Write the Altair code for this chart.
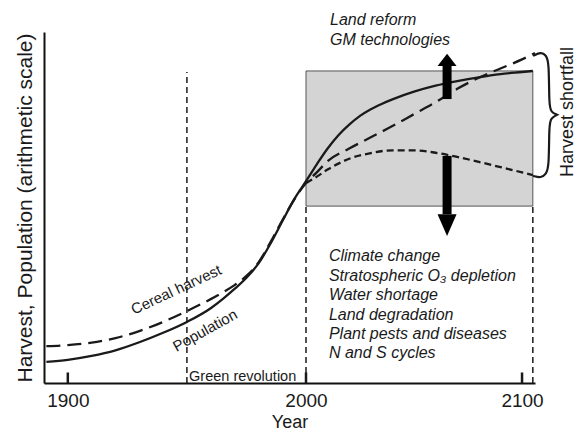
import altair as alt
import pandas as pd

FONT = "Liberation Sans"
INK = "#1a1a1a"

# ---- data (y in arbitrary 0-100 units) ----
pop_years = [1891, 1900, 1910, 1920, 1930, 1940, 1950, 1960, 1965, 1970, 1975, 1980, 1985, 1990, 1995,
             2000, 2005, 2010, 2015, 2020, 2025, 2030, 2035, 2040, 2050, 2060, 2070, 2080, 2090, 2100, 2105]
pop_values = [6.0, 6.6, 7.7, 9.3, 11.6, 14.3, 17.4, 21.3, 23.9, 26.8, 30.0, 34.0, 39.6, 46.0, 52.3,
              57.5, 62.3, 66.8, 70.6, 73.6, 76.1, 78.0, 79.5, 80.8, 83.0, 84.7, 86.0, 87.1, 88.0, 88.6, 88.9]

harvest_years = [1891, 1900, 1910, 1920, 1930, 1940, 1950, 1960, 1965, 1970, 1975, 1980, 1985, 1990, 1995,
                 2000, 2005, 2010, 2020, 2030, 2040, 2050, 2060, 2070, 2080, 2090, 2100, 2106]
harvest_values = [10.5, 10.8, 11.5, 12.8, 14.8, 17.4, 20.5, 23.9, 25.8, 27.9, 30.5, 34.3, 40.0, 46.3, 52.2,
                  57.0, 60.0, 63.2, 66.8, 70.0, 73.2, 76.6, 80.0, 83.8, 87.0, 89.6, 92.2, 94.0]

low_years = [2000, 2005, 2010, 2015, 2020, 2030, 2040, 2050, 2060, 2070, 2080, 2090, 2100, 2105]
low_values = [57.0, 58.8, 60.8, 62.5, 63.9, 65.5, 66.3, 66.3, 65.6, 64.4, 63.0, 61.5, 60.0, 59.2]

x_ticks = [1900, 2000, 2100]
upper_notes = ["Land reform", "GM technologies"]
lower_notes = ["Climate change", "Stratospheric O\u2083 depletion", "Water shortage",
               "Land degradation", "Plant pests and diseases", "N and S cycles"]

# ---- scales / axes ----
xscale = alt.Scale(domain=[1890, 2000, 2106], range=[0, 262, 491], nice=False, zero=False)
yscale = alt.Scale(domain=[0, 100], nice=False, zero=False)
xaxis = alt.Axis(title="Year", values=x_ticks, format="d", ticks=False, tickSize=0, grid=False,
                 labelFont=FONT, labelFontSize=19, labelColor=INK, labelPadding=8, labelFlush=False,
                 domainColor="#111", domainWidth=2,
                 titleFont=FONT, titleFontSize=18, titleFontWeight="normal", titleColor=INK,
                 titleBaseline="alphabetic", titleY=44)
yaxis = alt.Axis(title="Harvest, Population (arithmetic scale)", labels=False, ticks=False, tickSize=0,
                 grid=False, domainColor="#111", domainWidth=2,
                 titleFont=FONT, titleFontSize=21, titleFontWeight="normal", titleColor=INK, titlePadding=9)


def X(f="year"):
    return alt.X(f, type="quantitative", scale=xscale, axis=xaxis)


def Y(f="value"):
    return alt.Y(f, type="quantitative", scale=yscale, axis=yaxis)


def series(years, values):
    return pd.DataFrame({"year": years, "value": values})


pop_df = series(pop_years, pop_values)
harv_df = series(harvest_years, harvest_values)
low_df = series(low_years, low_values)

# shaded box
box_df = pd.DataFrame({"year": [2000], "year2": [2105], "value": [50.4], "value2": [88.9]})
box = alt.Chart(box_df).mark_rect(fill="#d4d4d4", stroke="#555", strokeWidth=1).encode(
    x=X(), x2="year2", y=Y(), y2="value2")

# dashed verticals
vdf = pd.DataFrame({"year": [1950, 2000, 2105], "value": [0, 0, 0], "value2": [88.6, 50.4, 50.4]})
vlines = alt.Chart(vdf).mark_rule(color=INK, strokeWidth=1.5, strokeDash=[6, 4]).encode(
    x=X(), y=Y(), y2="value2")

# inward ticks
tdf = pd.DataFrame({"year": x_ticks, "value": [0, 0, 0], "value2": [3, 3, 3]})
ticks = alt.Chart(tdf).mark_rule(color=INK, strokeWidth=2.5).encode(x=X(), y=Y(), y2="value2")

pop_line = alt.Chart(pop_df).mark_line(color=INK, strokeWidth=2.3, interpolate="monotone").encode(
    x=X(), y=Y())
harv_line = alt.Chart(harv_df).mark_line(color=INK, strokeWidth=2.3, strokeDash=[14, 7],
                                         interpolate="monotone").encode(x=X(), y=Y())
low_line = alt.Chart(low_df).mark_line(color=INK, strokeWidth=2.3, strokeDash=[7, 4],
                                       interpolate="monotone").encode(x=X(), y=Y())

# arrows
shaft_df = pd.DataFrame({"year": [2065.3, 2065.3], "value": [80.9, 64.7], "value2": [90.6, 48.1]})
shafts = alt.Chart(shaft_df).mark_rule(color="black", strokeWidth=9).encode(x=X(), y=Y(), y2="value2")
up_head = alt.Chart(pd.DataFrame({"year": [2065.3], "value": [90.3]})).mark_point(
    shape="M-1,0L1,0L0,-1.3Z", size=361, filled=True, color="black", opacity=1, strokeWidth=0
).encode(x=X(), y=Y())
down_head = alt.Chart(pd.DataFrame({"year": [2065.3], "value": [48.1]})).mark_point(
    shape="M-1,0L1,0L0,2.3Z", size=361, filled=True, color="black", opacity=1, strokeWidth=0
).encode(x=X(), y=Y())

# curly brace
brace_df = pd.DataFrame({
    "year": [2105.1, 2108.8, 2111.1, 2112.5, 2112.5, 2113.4, 2116.2, 2116.2, 2116.2, 2113.4,
             2112.5, 2112.5, 2111.1, 2108.8, 2105.1],
    "value": [93.2, 94.3, 93.4, 91.5, 79.2, 77.2, 76.4, 76.4, 76.4, 75.5,
              73.5, 61.5, 59.5, 58.4, 59.0],
    "order": list(range(15)),
})
brace = alt.Chart(brace_df).mark_line(color=INK, strokeWidth=2.2, interpolate="basis", clip=False).encode(
    x=X(), y=Y(), order="order")

# texts
up_df = pd.DataFrame({"year": [2011.1, 2011.1], "value": [103.4, 97.7], "text": upper_notes})
up_text = alt.Chart(up_df).mark_text(font=FONT, fontSize=16, fontStyle="italic", align="left",
                                     baseline="middle", color=INK, clip=False).encode(
    x=X(), y=Y(), text="text")
low_df_t = pd.DataFrame({"year": [2010.6] * 6, "value": [36.2, 30.5, 25.0, 19.4, 14.1, 8.5],
                         "text": lower_notes})
low_text = alt.Chart(low_df_t).mark_text(font=FONT, fontSize=16, fontStyle="italic", align="left",
                                         baseline="middle", color=INK).encode(
    x=X(), y=Y(), text="text")

misc_df = pd.DataFrame({"year": [1950.9], "value": [1.8], "text": ["Green revolution"]})
green = alt.Chart(misc_df).mark_text(font=FONT, fontSize=14.5, align="left", baseline="middle",
                                     color=INK).encode(x=X(), y=Y(), text="text")
cereal = alt.Chart(pd.DataFrame({"year": [1945.5], "value": [26.6], "text": ["Cereal harvest"]})).mark_text(
    font=FONT, fontSize=15, angle=335, align="center", baseline="middle", color=INK).encode(
    x=X(), y=Y(), text="text")
poplab = alt.Chart(pd.DataFrame({"year": [1957.6], "value": [15.0], "text": ["Population"]})).mark_text(
    font=FONT, fontSize=15, angle=331, align="center", baseline="middle", color=INK).encode(
    x=X(), y=Y(), text="text")
shortfall = alt.Chart(pd.DataFrame({"year": [2121.5], "value": [77.2], "text": ["Harvest shortfall"]})).mark_text(
    font=FONT, fontSize=18, angle=270, align="center", baseline="middle", color=INK, clip=False).encode(
    x=X(), y=Y(), text="text")

chart = alt.layer(
    box, vlines, ticks, low_line, harv_line, pop_line, shafts, up_head, down_head, brace,
    up_text, low_text, green, cereal, poplab, shortfall,
).properties(
    width=491, height=351,
    autosize=alt.AutoSizeParams(type="none"),
    padding={"left": 36, "top": 24, "right": 43, "bottom": 48},
    background="white",
).configure_view(stroke=None)

chart.save("out.html", embed_options={"renderer": "svg", "actions": False})
